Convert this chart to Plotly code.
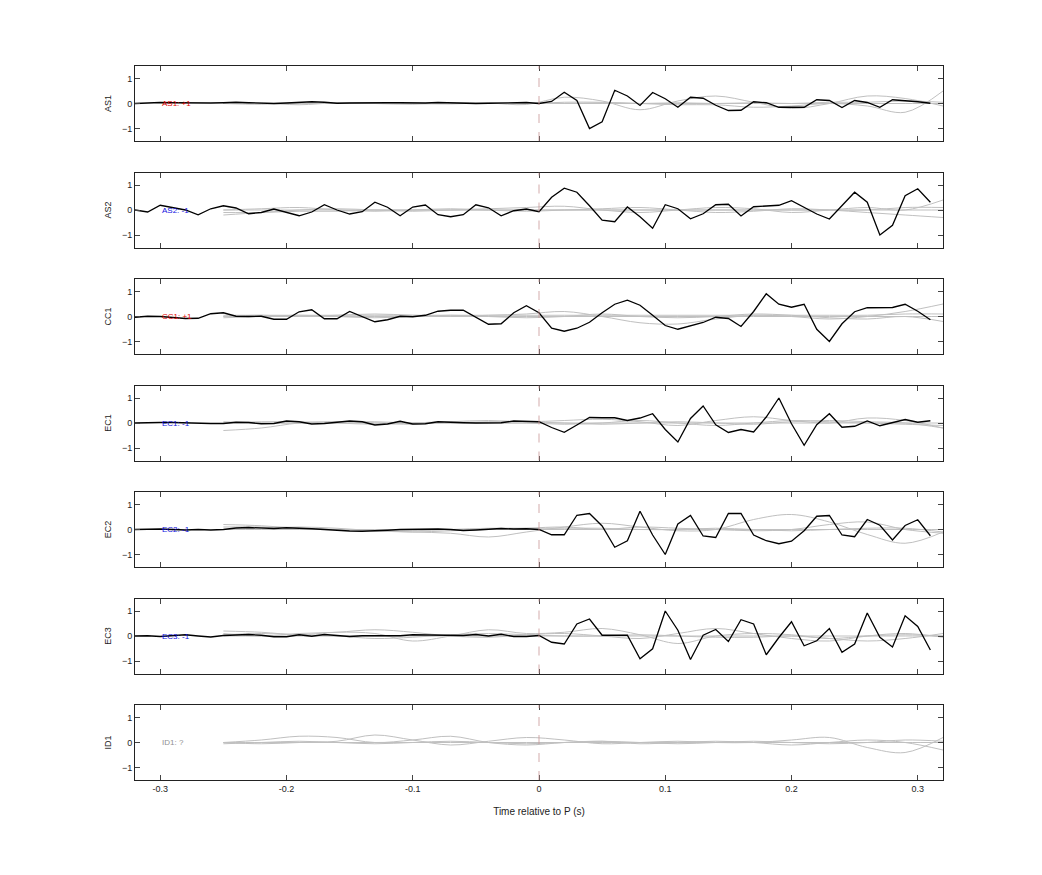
import numpy as np
import plotly.graph_objects as go

channels = ["AS1", "AS2", "CC1", "EC1", "EC2", "EC3", "ID1"]
labels = ["AS1: +1", "AS2: -1", "CC1: +1", "EC1: -1", "EC2: -1", "EC3: -1", "ID1: ?"]
label_colors = ["#e00000", "#1010e0", "#e00000", "#1010e0", "#1010e0", "#1010e0", "#909090"]

# black trace time points: -0.32 .. 0.31 step 0.01
t_black = [round(-0.32 + 0.01 * i, 2) for i in range(64)]

as1 = [0.0, 0.03, 0.04, 0.03, 0.02, 0.01, 0.02, 0.03, 0.05, 0.03, 0.01, 0.0, 0.02, 0.04, 0.07, 0.05,
       0.01, 0.02, 0.03, 0.04, 0.03, 0.03, 0.02, 0.02, 0.04, 0.02, 0.0, 0.0, 0.01, 0.02, 0.04, 0.04, 0.0,
       0.08, 0.45, 0.12, -1.0, -0.73, 0.53, 0.3, -0.08, 0.44, 0.19, -0.15, 0.25, 0.21, -0.07, -0.28,
       -0.27, 0.07, 0.03, -0.15, -0.15, -0.15, 0.15, 0.12, -0.16, 0.12, 0.04, -0.15, 0.15, 0.12, 0.07, 0.01]
as2 = [0.0, -0.08, 0.19, 0.1, 0.0, -0.19, 0.05, 0.17, 0.08, -0.15, -0.1, 0.04, -0.08, -0.23, -0.08, 0.21,
       0.0, -0.16, -0.07, 0.31, 0.11, -0.23, 0.12, 0.2, -0.19, -0.27, -0.19, 0.21, 0.09, -0.23, -0.03, 0.04, -0.07,
       0.51, 0.87, 0.71, 0.17, -0.41, -0.47, 0.12, -0.27, -0.73, 0.21, 0.05, -0.35, -0.15, 0.21, 0.23,
       -0.24, 0.13, 0.16, 0.19, 0.37, 0.11, -0.16, -0.36, 0.19, 0.71, 0.31, -1.0, -0.61, 0.57, 0.85, 0.31]
cc1 = [-0.03, 0.01, 0.0, -0.04, -0.08, -0.07, 0.11, 0.15, 0.01, 0.0, 0.01, -0.11, -0.11, 0.19, 0.27, -0.09,
       -0.09, 0.2, 0.01, -0.21, -0.13, 0.01, -0.01, 0.05, 0.21, 0.25, 0.25, -0.03, -0.31, -0.29, 0.15, 0.43, 0.15,
       -0.47, -0.59, -0.47, -0.23, 0.15, 0.49, 0.65, 0.45, 0.05, -0.36, -0.51, -0.37, -0.24, -0.03, -0.08,
       -0.4, 0.2, 0.91, 0.49, 0.37, 0.49, -0.51, -1.0, -0.29, 0.19, 0.35, 0.37, 0.36, 0.49, 0.21, -0.13]
ec1 = [0.0, 0.02, 0.02, 0.02, 0.0, 0.0, -0.02, -0.02, 0.03, 0.02, -0.03, -0.02, 0.08, 0.05, -0.04, -0.02,
       0.03, 0.08, 0.05, -0.08, -0.04, 0.07, -0.04, -0.03, 0.05, 0.02, 0.01, 0.0, 0.0, 0.01, 0.08, 0.06, 0.05,
       -0.18, -0.37, -0.08, 0.22, 0.21, 0.21, 0.1, 0.2, 0.37, -0.26, -0.76, 0.18, 0.68, -0.07, -0.38,
       -0.26, -0.36, 0.24, 1.0, -0.03, -0.89, -0.07, 0.37, -0.17, -0.13, 0.08, -0.11, 0.03, 0.14, 0.03, 0.09]
ec2 = [0.0, 0.02, 0.02, 0.0, -0.02, 0.0, -0.02, 0.0, 0.06, 0.08, 0.06, 0.04, 0.07, 0.06, 0.03, 0.0,
       -0.04, -0.06, -0.07, -0.06, -0.03, 0.0, 0.01, 0.02, 0.02, 0.0, -0.04, -0.02, 0.02, 0.04, 0.02, 0.03, 0.0,
       -0.21, -0.21, 0.57, 0.64, 0.14, -0.71, -0.45, 0.73, -0.22, -1.0, 0.22, 0.56, -0.26, -0.32, 0.64,
       0.64, -0.22, -0.45, -0.57, -0.47, -0.05, 0.53, 0.56, -0.22, -0.29, 0.4, 0.17, -0.42, 0.16, 0.39, -0.25]
ec3 = [0.0, 0.01, -0.02, 0.0, 0.05, 0.0, -0.04, 0.02, 0.05, 0.06, 0.03, -0.03, -0.03, 0.05, -0.01, 0.06,
       0.02, -0.02, 0.01, 0.0, 0.0, 0.01, 0.05, 0.05, 0.05, 0.04, 0.02, 0.06, 0.0, 0.07, -0.02, -0.02, 0.02,
       -0.25, -0.32, 0.48, 0.68, 0.03, 0.03, 0.03, -0.91, -0.51, 1.0, 0.23, -0.94, 0.03, 0.26, -0.22,
       0.65, 0.48, -0.75, -0.06, 0.57, -0.39, -0.19, 0.3, -0.65, -0.32, 0.92, -0.05, -0.44, 0.81, 0.38, -0.56]
black_series = [as1, as2, cc1, ec1, ec2, ec3, None]

# gray (smooth) traces: -0.25 .. 0.32 step 0.03
t_gray = [round(-0.25 + 0.03 * i, 2) for i in range(20)]
gray_series = [
    [[0.0, 0.02, -0.05, 0.03, 0.0, -0.03, 0.04, 0.02, -0.04, 0.25, 0.1, -0.25, 0.1, 0.3, 0.05, -0.2, 0.0, 0.3, 0.2, -0.1],
     [0.0, -0.03, 0.02, 0.0, 0.03, 0.0, -0.02, 0.03, 0.0, 0.05, 0.05, 0.0, -0.05, -0.05, -0.15, -0.1, 0.0, -0.1, -0.35, 0.5],
     [0.0, 0.0, 0.0, 0.0, 0.0, 0.0, 0.0, 0.0, 0.0, 0.0, 0.0, 0.0, 0.0, 0.0, 0.0, 0.0, 0.0, 0.0, 0.0, 0.0],
     [0.02, 0.0, 0.02, 0.0, 0.02, 0.0, 0.02, 0.0, 0.02, 0.0, 0.03, 0.0, 0.03, 0.0, 0.03, 0.0, 0.05, 0.05, 0.1, 0.05]],
    [[-0.2, -0.1, 0.0, 0.05, 0.0, -0.05, 0.0, 0.05, 0.1, 0.15, 0.0, -0.1, 0.0, 0.1, 0.05, -0.1, 0.0, 0.1, 0.0, 0.4],
     [0.0, 0.05, 0.1, 0.0, -0.05, 0.0, 0.05, 0.0, -0.05, 0.0, 0.05, 0.1, 0.0, -0.1, -0.05, 0.05, 0.0, -0.1, -0.2, -0.3],
     [-0.1, -0.1, -0.05, -0.05, 0.0, 0.0, 0.0, 0.0, 0.0, 0.0, 0.0, 0.0, 0.0, 0.0, 0.0, 0.0, 0.0, 0.0, 0.1, 0.1],
     [0.0, 0.0, 0.0, 0.0, 0.0, 0.0, 0.0, 0.0, 0.0, 0.0, 0.0, 0.0, 0.0, 0.0, 0.0, 0.0, 0.0, 0.0, 0.0, 0.0]],
    [[0.0, 0.05, 0.0, 0.05, 0.1, 0.05, 0.0, 0.05, 0.1, 0.2, 0.0, -0.25, -0.3, -0.1, 0.05, 0.0, -0.1, 0.0, 0.2, 0.5],
     [-0.05, 0.0, 0.05, 0.0, -0.05, 0.0, 0.05, 0.0, -0.05, 0.0, 0.1, 0.0, -0.05, 0.0, 0.1, 0.05, -0.05, -0.1, 0.0, -0.2],
     [0.0, 0.0, 0.0, 0.0, 0.0, 0.0, 0.0, 0.0, 0.0, 0.0, 0.0, 0.0, 0.0, 0.0, 0.0, 0.0, 0.0, 0.0, 0.0, 0.0],
     [0.05, 0.05, 0.05, 0.05, 0.05, 0.05, 0.05, 0.05, 0.05, 0.05, 0.05, 0.05, 0.05, 0.05, 0.05, 0.05, 0.05, 0.05, 0.1, 0.1]],
    [[-0.3, -0.2, 0.0, 0.05, 0.0, -0.05, 0.05, 0.1, 0.05, 0.1, 0.15, 0.05, -0.1, 0.1, 0.25, 0.1, 0.0, 0.2, 0.1, -0.2],
     [0.0, 0.05, 0.05, 0.0, -0.05, 0.0, 0.05, 0.0, 0.0, -0.05, 0.0, 0.1, 0.0, -0.1, 0.0, 0.1, 0.05, 0.0, -0.05, -0.1],
     [0.0, 0.0, 0.0, 0.0, 0.0, 0.0, 0.0, 0.0, 0.0, 0.0, 0.0, 0.0, 0.0, 0.0, 0.0, 0.0, 0.0, 0.0, 0.0, 0.0],
     [0.05, 0.0, 0.0, 0.05, 0.05, 0.0, 0.0, 0.05, 0.05, 0.0, -0.05, 0.0, 0.05, 0.0, -0.05, 0.05, 0.1, 0.05, 0.0, -0.2]],
    [[0.2, 0.15, 0.05, 0.0, -0.05, -0.1, -0.15, -0.3, -0.1, 0.1, 0.25, 0.1, -0.05, 0.0, 0.4, 0.6, 0.3, -0.2, -0.55, -0.1],
     [0.0, 0.05, 0.1, 0.05, -0.05, -0.1, -0.05, 0.0, 0.05, 0.1, 0.0, 0.1, 0.05, 0.0, -0.05, 0.0, 0.2, 0.3, 0.0, -0.15],
     [0.0, 0.0, 0.0, 0.0, 0.0, 0.0, 0.0, 0.0, 0.0, 0.0, 0.0, 0.0, 0.0, 0.0, 0.0, 0.0, 0.0, 0.0, 0.0, 0.0],
     [0.1, 0.1, 0.05, 0.0, -0.05, -0.05, 0.0, 0.05, 0.05, 0.05, 0.05, 0.0, 0.0, 0.05, 0.0, -0.05, 0.0, 0.05, 0.05, -0.1]],
    [[0.2, 0.15, 0.05, 0.15, 0.1, -0.2, 0.0, 0.25, 0.1, 0.15, 0.3, 0.05, -0.3, 0.0, 0.1, 0.05, -0.1, 0.0, 0.05, 0.0],
     [0.1, 0.0, 0.1, 0.15, 0.25, 0.15, 0.0, -0.05, 0.05, 0.1, 0.0, -0.1, 0.1, 0.3, 0.1, -0.1, -0.2, 0.0, 0.1, -0.05],
     [0.0, 0.0, 0.0, 0.0, 0.0, 0.0, 0.0, 0.0, 0.0, 0.0, 0.0, 0.0, 0.0, 0.0, 0.0, 0.0, 0.0, 0.0, 0.0, 0.0],
     [0.05, 0.1, 0.05, 0.0, -0.1, -0.05, 0.05, 0.1, 0.05, 0.0, 0.0, 0.05, 0.0, -0.05, -0.05, 0.0, -0.1, -0.2, -0.1, 0.1]],
    [[0.0, 0.1, 0.25, 0.2, 0.0, 0.1, 0.25, 0.0, -0.1, 0.0, 0.05, -0.05, 0.0, 0.05, 0.0, -0.1, 0.0, 0.1, 0.0, -0.3],
     [0.0, -0.05, 0.0, 0.05, 0.3, 0.1, -0.1, 0.05, 0.2, 0.1, -0.05, 0.0, 0.05, 0.0, 0.0, 0.1, 0.2, -0.2, -0.4, 0.2],
     [0.0, 0.0, 0.0, 0.0, 0.0, 0.0, 0.0, 0.0, 0.0, 0.0, 0.0, 0.0, 0.0, 0.0, 0.0, 0.0, 0.0, 0.0, 0.0, 0.0],
     [-0.05, 0.0, 0.05, 0.0, -0.05, 0.0, 0.05, 0.0, -0.05, 0.0, 0.05, 0.0, -0.05, 0.0, 0.05, 0.0, -0.05, 0.0, 0.1, 0.05]],
]

W, H = 1042, 875
top_px, bot_px = 58, 772
left_px, right_px = 127, 935
panel_px, gap_px = 75, 31.5
plot_h = bot_px - top_px

fig = go.Figure()
font = dict(family="Liberation Sans, Arial", size=9, color="#222")
for i, ch in enumerate(channels):
    n = i + 1
    xa = "x" if n == 1 else f"x{n}"
    ya = "y" if n == 1 else f"y{n}"
    for g in gray_series[i]:
        fig.add_trace(go.Scatter(x=t_gray, y=g, mode="lines", line=dict(color="#c0c0c0", width=1, shape="spline"),
                                 xaxis=xa, yaxis=ya, showlegend=False))
    if black_series[i] is not None:
        fig.add_trace(go.Scatter(x=t_black, y=black_series[i], mode="lines", line=dict(color="black", width=1.3),
                                 xaxis=xa, yaxis=ya, showlegend=False))
    p_top = top_px + i * (panel_px + gap_px)
    p_bot = p_top + panel_px
    dom = [(bot_px - p_bot) / plot_h, (bot_px - p_top) / plot_h]
    fig.update_layout({
        f"xaxis{n if n > 1 else ''}": dict(domain=[0, 1], anchor=ya, range=[-0.32, 0.32], tickvals=[-0.3, -0.2, -0.1, 0, 0.1, 0.2, 0.3],
                                           ticktext=["-0.3", "-0.2", "-0.1", "0", "0.1", "0.2", "0.3"],
                                           showticklabels=(n == 7), ticks="inside", ticklen=5, mirror="ticks",
                                           showline=True, linecolor="#222", linewidth=1, showgrid=False, zeroline=False,
                                           tickfont=font, matches="x" if n > 1 else None,
                                           title=dict(text="Time relative to P (s)", font=dict(family="Liberation Sans, Arial", size=10, color="#222")) if n == 7 else None),
        f"yaxis{n if n > 1 else ''}": dict(domain=dom, anchor=xa, range=[-1.5, 1.5], tickvals=[-1, 0, 1],
                                           ticks="inside", ticklen=5, mirror="ticks", showline=True, linecolor="#222",
                                           linewidth=1, showgrid=False, zeroline=False, tickfont=font,
                                           title=dict(text=ch, font=font, standoff=8)),
    })
    fig.add_shape(type="line", x0=0, x1=0, y0=-1.5, y1=1.5, xref=xa, yref=ya,
                  line=dict(color="rgba(200,150,150,0.8)", width=1, dash="dash"))
    fig.add_annotation(x=-0.30, y=0, xref=xa, yref=ya, text=labels[i], showarrow=False, xanchor="left",
                       font=dict(family="Liberation Sans, Arial", size=8, color=label_colors[i]))

fig.update_layout(width=W, height=H, paper_bgcolor="white", plot_bgcolor="white",
                  margin=dict(l=left_px, r=W - right_px, t=top_px, b=H - bot_px))
fig.write_html("out.html")
